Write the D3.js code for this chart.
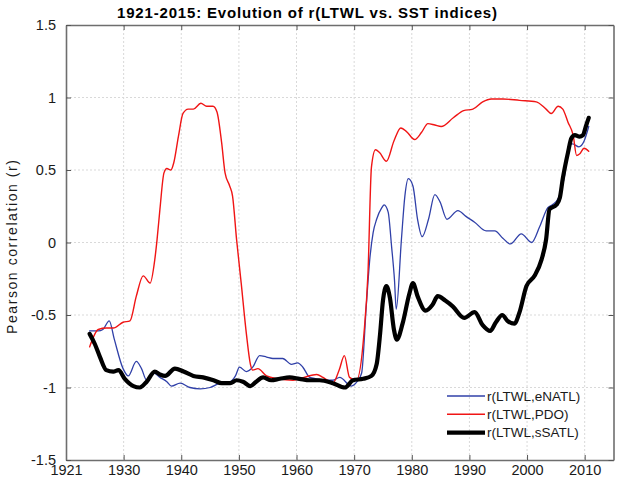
<!DOCTYPE html>
<html>
<head>
<meta charset="utf-8">
<script src="https://cdn.jsdelivr.net/npm/d3@7"></script>
<style>
  body { margin: 0; background: #fff; }
  text { font-family: "Liberation Sans", Arial, sans-serif; }
</style>
</head>
<body>
<svg id="chart" width="624" height="490"></svg>
<script>
// Tick positions and labels (first tick is labelled 1921 in the original figure)
const xTickYears = [1920, 1930, 1940, 1950, 1960, 1970, 1980, 1990, 2000, 2010];
const xTickLabels = ["1921", "1930", "1940", "1950", "1960", "1970", "1980", "1990", "2000", "2010"];
const yTicks = [-1.5, -1, -0.5, 0, 0.5, 1, 1.5];

// r(LTWL,eNATL)
const enatlYears = [1924.1, 1925.6, 1926.4, 1927.5, 1928.4, 1929.9, 1930.8, 1932.2, 1933.1, 1934.0, 1935.2, 1936.3, 1937.5, 1938.3, 1939.8, 1941.5, 1943.3, 1945.0, 1946.7, 1948.5, 1949.4, 1950.1, 1951.3, 1952.4, 1953.6, 1954.8, 1955.9, 1957.6, 1959.1, 1960.2, 1961.1, 1962.3, 1963.4, 1965.2, 1966.3, 1967.5, 1969.5, 1970.5, 1971.3, 1972.1, 1972.7, 1973.3, 1973.9, 1974.8, 1975.2, 1975.9, 1976.5, 1977.0, 1977.3, 1978.2, 1978.8, 1979.4, 1980.2, 1981.0, 1981.8, 1982.9, 1984.0, 1984.9, 1986.1, 1988.0, 1989.4, 1990.9, 1992.9, 1994.4, 1995.8, 1997.1, 1999.0, 2000.8, 2002.2, 2003.6, 2004.4, 2005.5, 2006.5, 2007.3, 2007.9, 2009.0, 2009.9, 2010.7];
const enatlR = [-0.61, -0.61, -0.60, -0.54, -0.67, -0.87, -0.92, -0.82, -0.87, -0.95, -0.90, -0.93, -0.96, -0.99, -0.97, -1.00, -1.01, -1.00, -0.97, -0.96, -0.92, -0.86, -0.89, -0.86, -0.78, -0.79, -0.80, -0.80, -0.84, -0.83, -0.86, -0.93, -0.94, -0.95, -0.95, -0.93, -0.99, -0.96, -0.90, -0.44, -0.12, 0.07, 0.16, 0.24, 0.26, 0.21, -0.03, -0.26, -0.46, 0.02, 0.32, 0.44, 0.39, 0.16, 0.04, 0.16, 0.33, 0.28, 0.16, 0.22, 0.18, 0.14, 0.08, 0.08, 0.03, -0.01, 0.06, 0.00, 0.11, 0.24, 0.26, 0.31, 0.46, 0.67, 0.68, 0.66, 0.70, 0.80];

// r(LTWL,PDO)
const pdoYears = [1924.1, 1925.6, 1927.0, 1928.2, 1929.9, 1931.1, 1932.2, 1933.4, 1934.6, 1935.4, 1935.8, 1936.3, 1937.0, 1937.5, 1938.2, 1938.7, 1939.5, 1940.3, 1941.2, 1942.1, 1943.4, 1944.4, 1945.5, 1946.2, 1947.0, 1947.6, 1948.4, 1948.9, 1949.6, 1950.4, 1951.3, 1952.0, 1952.4, 1953.3, 1954.8, 1956.8, 1959.4, 1961.3, 1963.5, 1964.6, 1966.3, 1967.4, 1968.3, 1969.2, 1970.4, 1971.7, 1972.4, 1973.0, 1973.7, 1974.4, 1975.6, 1976.9, 1978.1, 1979.2, 1980.5, 1981.7, 1982.8, 1984.0, 1985.1, 1987.2, 1989.0, 1990.6, 1992.3, 1993.8, 1995.8, 1998.7, 2001.6, 2003.3, 2004.2, 2005.4, 2006.2, 2007.1, 2008.0, 2008.6, 2009.1, 2009.9, 2010.7];
const pdoR = [-0.72, -0.60, -0.59, -0.59, -0.55, -0.54, -0.37, -0.23, -0.28, -0.12, 0.02, 0.23, 0.48, 0.51, 0.50, 0.55, 0.73, 0.89, 0.92, 0.92, 0.96, 0.94, 0.94, 0.90, 0.69, 0.48, 0.39, 0.32, 0.02, -0.28, -0.63, -0.84, -0.88, -0.87, -0.92, -0.94, -0.95, -0.93, -0.91, -0.93, -0.97, -0.88, -0.78, -0.93, -0.95, -0.63, -0.21, 0.52, 0.64, 0.62, 0.56, 0.70, 0.79, 0.76, 0.71, 0.76, 0.82, 0.81, 0.80, 0.86, 0.91, 0.92, 0.97, 0.99, 0.99, 0.98, 0.97, 0.92, 0.89, 0.94, 0.92, 0.83, 0.74, 0.60, 0.61, 0.65, 0.63];

// r(LTWL,sSATL)
const ssatlYears = [1924.1, 1925.0, 1925.9, 1927.0, 1928.2, 1929.1, 1930.2, 1931.7, 1932.8, 1934.0, 1935.4, 1936.3, 1937.2, 1938.9, 1940.4, 1942.1, 1943.8, 1945.6, 1947.0, 1948.5, 1949.6, 1950.7, 1952.0, 1953.0, 1954.2, 1955.6, 1957.1, 1958.8, 1960.5, 1962.3, 1964.0, 1966.3, 1968.4, 1969.8, 1971.6, 1973.0, 1973.9, 1974.5, 1975.0, 1975.6, 1976.2, 1976.9, 1977.4, 1978.4, 1979.6, 1980.2, 1981.0, 1982.4, 1983.6, 1984.5, 1985.8, 1987.1, 1989.1, 1990.9, 1992.3, 1993.6, 1994.6, 1995.7, 1996.6, 1997.8, 1998.7, 1999.9, 2001.3, 2002.5, 2003.3, 2003.9, 2005.1, 2005.7, 2006.2, 2007.1, 2007.7, 2008.3, 2009.1, 2009.7, 2010.2, 2010.7];
const ssatlR = [-0.63, -0.70, -0.79, -0.88, -0.89, -0.88, -0.94, -0.99, -1.00, -0.96, -0.89, -0.91, -0.92, -0.87, -0.89, -0.92, -0.93, -0.95, -0.97, -0.97, -0.95, -0.96, -0.99, -0.96, -0.93, -0.95, -0.94, -0.93, -0.94, -0.95, -0.95, -0.97, -1.00, -0.95, -0.94, -0.92, -0.84, -0.63, -0.40, -0.30, -0.38, -0.60, -0.67, -0.56, -0.35, -0.28, -0.37, -0.47, -0.43, -0.37, -0.40, -0.44, -0.52, -0.48, -0.57, -0.61, -0.55, -0.50, -0.54, -0.56, -0.48, -0.30, -0.23, -0.12, 0.02, 0.23, 0.26, 0.31, 0.44, 0.62, 0.72, 0.74, 0.73, 0.74, 0.80, 0.86];

const seriesNames = ["r(LTWL,eNATL)", "r(LTWL,PDO)", "r(LTWL,sSATL)"];

// Layout
const width = 624, height = 490;
const margin = {top: 25, right: 10.5, bottom: 30, left: 66};
const innerW = width - margin.left - margin.right;
const innerH = height - margin.top - margin.bottom;

const svg = d3.select("#chart");
const g = svg.append("g").attr("transform", `translate(${margin.left},${margin.top})`);

const x = d3.scaleLinear().domain([1920, 2015]).range([0, innerW]);
const y = d3.scaleLinear().domain([-1.5, 1.5]).range([innerH, 0]);

// Dotted grid
g.append("g").selectAll("line").data(xTickYears.slice(1)).enter().append("line")
  .attr("x1", d => x(d)).attr("x2", d => x(d))
  .attr("y1", 0).attr("y2", innerH)
  .attr("stroke", "#d9d9d9").attr("stroke-dasharray", "2,2");
g.append("g").selectAll("line").data(yTicks.slice(1, -1)).enter().append("line")
  .attr("x1", 0).attr("x2", innerW)
  .attr("y1", d => y(d)).attr("y2", d => y(d))
  .attr("stroke", "#d9d9d9").attr("stroke-dasharray", "2,2");

// Axes (ticks inward, mirrored on top and right)
const fmtX = d => xTickLabels[xTickYears.indexOf(d)];
const fmtY = d => String(d);

const styleAxis = sel => {
  sel.select(".domain").attr("stroke", "#6e6e6e").attr("stroke-width", 1.6);
  sel.selectAll(".tick line").attr("stroke", "#555");
  sel.selectAll(".tick text").attr("fill", "#1a1a1a").style("font-size", "14.5px");
};

g.append("g").attr("transform", `translate(0,${innerH})`)
  .call(d3.axisBottom(x).tickValues(xTickYears).tickFormat(fmtX).tickSizeInner(-5).tickSizeOuter(0).tickPadding(5))
  .call(styleAxis);
g.append("g")
  .call(d3.axisTop(x).tickValues(xTickYears).tickFormat("").tickSizeInner(-5).tickSizeOuter(0))
  .call(styleAxis);
g.append("g")
  .call(d3.axisLeft(y).tickValues(yTicks).tickFormat(fmtY).tickSizeInner(-5).tickSizeOuter(0).tickPadding(10))
  .call(styleAxis);
g.append("g").attr("transform", `translate(${innerW},0)`)
  .call(d3.axisRight(y).tickValues(yTicks).tickFormat("").tickSizeInner(-5).tickSizeOuter(0))
  .call(styleAxis);

// Lines
const line = d3.line()
  .x(d => x(d[0]))
  .y(d => y(d[1]))
  .curve(d3.curveMonotoneX);

const series = [
  {name: seriesNames[0], data: d3.zip(enatlYears, enatlR), color: "#3040a8", w: 1.3},
  {name: seriesNames[1], data: d3.zip(pdoYears, pdoR), color: "#f01515", w: 1.4},
  {name: seriesNames[2], data: d3.zip(ssatlYears, ssatlR), color: "#000", w: 4.2}
];

g.selectAll("path.series")
  .data(series)
  .enter()
  .append("path")
  .attr("class", "series")
  .attr("d", d => line(d.data))
  .attr("fill", "none")
  .attr("stroke", d => d.color)
  .attr("stroke-width", d => d.w)
  .attr("stroke-linejoin", "round")
  .attr("stroke-linecap", "round");

// Legend
const legend = svg.append("g").attr("transform", "translate(447,396)");
const rows = legend.selectAll("g").data(series).enter().append("g")
  .attr("transform", (d, i) => `translate(0,${i * 18.3})`);
rows.append("line")
  .attr("x1", 0).attr("x2", 38).attr("y1", 0).attr("y2", 0)
  .attr("stroke", d => d.color).attr("stroke-width", d => d.w);
rows.append("text")
  .attr("x", 40).attr("y", 0).attr("dy", "0.36em")
  .style("font-size", "13.5px").attr("fill", "#1a1a1a")
  .text(d => d.name);

// Title
svg.append("text")
  .attr("x", 307).attr("y", 17.5)
  .attr("text-anchor", "middle")
  .attr("textLength", 380).attr("lengthAdjust", "spacing")
  .style("font-size", "15px").style("font-weight", "bold")
  .text("1921-2015: Evolution of r(LTWL vs. SST indices)");

// Y label
svg.append("text")
  .attr("transform", "translate(17,247) rotate(-90)")
  .attr("text-anchor", "middle")
  .attr("textLength", 174).attr("lengthAdjust", "spacing")
  .style("font-size", "14px").attr("fill", "#1a1a1a")
  .text("Pearson correlation (r)");
</script>
</body>
</html>
